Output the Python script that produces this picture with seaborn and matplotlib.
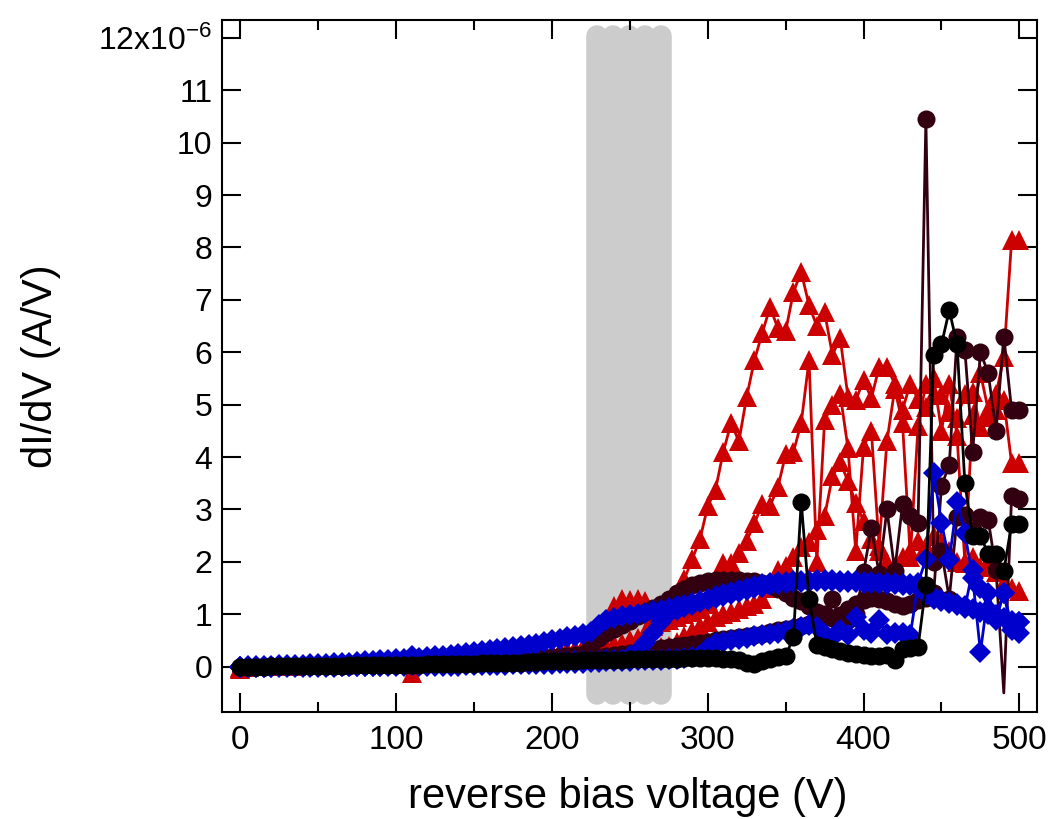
import matplotlib
matplotlib.use("Agg")
import matplotlib.pyplot as plt
import numpy as np
import pandas as pd
import seaborn as sns
from matplotlib.ticker import FixedLocator, FixedFormatter, NullLocator

# ---------------- data (values in units of 1e-6 A/V) ----------------
voltage = list(range(0, 505, 5))

red_a = [-0.05,0.00,0.01,0.01,0.02,0.02,0.03,0.03,0.04,0.04,
         0.05,0.05,0.06,0.06,0.07,0.07,0.08,0.08,0.09,0.09,
         0.10,0.11,0.11,0.12,0.12,0.13,0.13,0.14,0.14,0.15,
         0.15,0.16,0.17,0.18,0.19,0.20,0.21,0.22,0.23,0.24,
         0.25,0.27,0.29,0.31,0.33,0.35,0.37,0.40,0.43,0.46,
         0.50,0.55,0.65,0.78,0.92,1.10,1.40,1.67,2.05,2.43,
         3.06,3.38,4.10,4.65,4.30,5.15,5.85,6.37,6.86,6.46,
         6.40,7.15,7.53,6.90,6.50,6.77,5.95,6.27,5.15,5.08,
         5.47,5.12,5.72,5.72,5.40,4.90,5.40,5.10,4.96,5.20,
         5.18,4.86,4.74,5.20,5.24,4.57,4.77,4.89,5.08,3.88,
         3.88]

red_b = [0.00,0.00,0.01,0.01,0.02,0.02,0.03,0.03,0.04,0.04,
         0.05,0.05,0.06,0.06,0.07,0.07,0.08,0.08,0.09,0.09,
         0.10,0.10,-0.12,0.11,0.12,0.12,0.13,0.13,0.14,0.15,
         0.16,0.17,0.18,0.19,0.20,0.21,0.22,0.23,0.24,0.25,
         0.27,0.29,0.31,0.34,0.38,0.48,0.65,0.90,1.15,1.30,
         1.28,1.30,1.25,0.95,0.85,0.90,0.95,1.00,1.05,1.10,
         1.20,1.50,1.97,1.97,2.16,2.40,2.74,3.10,3.07,3.42,
         4.05,4.10,4.65,5.85,2.00,4.70,5.00,5.20,4.17,2.20,
         4.20,4.50,2.30,4.30,5.30,4.65,2.10,4.60,5.40,5.50,
         4.50,5.40,4.40,2.00,4.80,5.60,4.90,5.20,5.90,8.14,
         8.14]

red_c = [-0.03,0.00,0.01,0.01,0.01,0.02,0.02,0.02,0.03,0.03,
         0.04,0.04,0.05,0.05,0.05,0.06,0.06,0.07,0.07,0.08,
         0.08,0.09,0.09,0.10,0.10,0.11,0.11,0.12,0.12,0.13,
         0.13,0.14,0.14,0.15,0.16,0.16,0.17,0.18,0.18,0.19,
         0.20,0.21,0.22,0.22,0.23,0.24,0.25,0.26,0.27,0.28,
         0.29,0.30,0.32,0.34,0.37,0.40,0.48,0.58,0.68,0.78,
         0.86,0.94,1.00,1.05,1.10,1.15,1.20,1.30,1.50,1.85,
         1.92,2.10,2.28,2.37,2.60,2.87,3.63,3.90,3.54,3.13,
         2.78,2.43,2.20,2.00,1.90,2.10,2.20,2.40,2.30,2.50,
         2.40,2.20,2.00,1.98,2.10,1.90,2.00,1.80,1.60,1.50,
         1.45]

maroon_a = [0.00,0.00,0.00,0.01,0.01,0.01,0.01,0.01,0.02,0.02,
            0.02,0.02,0.03,0.03,0.03,0.04,0.04,0.04,0.05,0.05,
            0.05,0.06,0.06,0.07,0.07,0.08,0.08,0.09,0.09,0.10,
            0.10,0.11,0.12,0.12,0.13,0.14,0.15,0.16,0.17,0.18,
            0.19,0.20,0.21,0.22,0.24,0.40,0.55,0.64,0.72,0.80,
            0.88,0.96,1.04,1.12,1.20,1.30,1.40,1.48,1.55,1.60,
            1.63,1.65,1.66,1.66,1.65,1.64,1.63,1.60,1.55,1.48,
            1.40,1.32,1.25,1.15,1.05,0.95,0.92,0.98,1.10,1.20,
            1.28,1.32,1.30,1.25,1.20,1.15,1.20,1.28,1.32,1.40,
            3.45,3.85,6.30,6.05,4.10,6.00,5.60,4.50,6.30,4.90,
            4.90]

maroon_b = [0.00,0.00,0.00,0.00,0.01,0.01,0.01,0.01,0.01,0.01,
            0.02,0.02,0.02,0.02,0.02,0.03,0.03,0.03,0.03,0.04,
            0.04,0.04,0.04,0.05,0.05,0.05,0.06,0.06,0.06,0.07,
            0.07,0.08,0.08,0.09,0.09,0.10,0.10,0.11,0.11,0.12,
            0.12,0.13,0.13,0.14,0.15,0.16,0.18,0.20,0.22,0.24,
            0.26,0.28,0.30,0.32,0.35,0.38,0.40,0.42,0.44,0.46,
            0.48,0.50,0.52,0.54,0.56,0.58,0.60,0.62,0.66,0.70,
            0.72,0.74,0.78,0.82,0.90,1.00,1.30,0.85,0.90,1.00,
            1.80,2.65,1.77,3.00,1.83,3.10,2.87,2.75,10.45,2.00,
            2.20,1.30,2.85,2.90,2.60,2.85,2.80,1.85,-0.50,3.25,
            3.20]

blue_a = [0.00,0.01,0.01,0.02,0.02,0.03,0.03,0.04,0.04,0.05,
          0.05,0.06,0.07,0.07,0.08,0.09,0.10,0.11,0.12,0.13,
          0.14,0.15,0.16,0.17,0.18,0.20,0.21,0.22,0.24,0.26,
          0.28,0.30,0.32,0.34,0.36,0.38,0.40,0.42,0.44,0.47,
          0.50,0.53,0.56,0.59,0.62,0.66,0.80,0.90,0.93,0.96,
          0.98,1.00,1.03,1.06,1.09,1.12,1.15,1.18,1.22,1.26,
          1.30,1.34,1.38,1.42,1.46,1.50,1.54,1.57,1.60,1.62,
          1.62,1.63,1.64,1.64,1.65,1.65,1.65,1.64,1.64,1.63,
          1.62,1.61,1.60,1.60,1.59,1.58,1.57,1.55,1.40,1.33,
          1.28,1.24,1.20,1.15,1.10,1.05,1.00,0.96,0.92,0.88,
          0.85]

blue_b = [0.00,0.00,0.00,0.00,0.00,0.01,0.01,0.01,0.01,0.01,
          0.01,0.01,0.01,0.02,0.02,0.02,0.02,0.02,0.02,0.03,
          0.03,0.03,0.03,0.03,0.04,0.04,0.04,0.04,0.05,0.05,
          0.05,0.05,0.06,0.06,0.06,0.07,0.07,0.07,0.08,0.08,
          0.08,0.09,0.09,0.10,0.10,0.11,0.11,0.12,0.12,0.13,
          0.20,0.30,0.45,0.65,0.85,1.02,1.08,1.13,1.18,1.23,
          1.27,1.31,1.35,1.39,1.43,1.47,1.50,1.53,1.56,1.58,
          1.60,1.61,1.62,1.62,1.63,1.63,1.63,1.62,1.62,1.61,
          1.60,1.60,1.59,1.58,1.57,1.56,1.55,1.53,1.38,1.30,
          1.25,1.21,1.17,1.12,1.85,1.50,1.10,0.99,1.40,0.80,
          0.65]

blue_c = [0.00,0.00,0.00,0.00,0.00,0.00,0.00,0.00,0.00,0.00,
          0.00,0.00,0.00,0.01,0.01,0.01,0.01,0.01,0.01,0.01,
          0.01,0.01,0.20,0.01,0.02,0.02,0.02,0.02,0.02,0.03,
          0.03,0.03,0.04,0.04,0.04,0.05,0.05,0.05,0.06,0.06,
          0.06,0.07,0.07,0.08,0.08,0.09,0.09,0.10,0.10,0.11,
          0.11,0.12,0.12,0.13,0.13,0.14,0.15,0.16,0.18,0.22,
          0.35,0.45,0.47,0.50,0.52,0.55,0.58,0.60,0.62,0.65,
          0.68,0.72,0.76,0.80,0.75,0.62,0.55,0.70,0.60,0.95,
          0.70,0.65,0.90,0.62,0.65,0.65,0.60,1.60,2.05,3.70,
          2.75,2.03,3.15,2.55,1.70,0.28,1.40,0.90,1.40,0.70,
          0.85]

black_a = [0.00,0.00,0.00,0.00,0.01,0.01,0.01,0.01,0.01,0.02,
           0.02,0.02,0.02,0.02,0.03,0.03,0.03,0.03,0.03,0.04,
           0.04,0.04,0.04,0.04,0.05,0.05,0.05,0.05,0.06,0.06,
           0.06,0.07,0.07,0.07,0.08,0.08,0.08,0.09,0.09,0.10,
           0.10,0.10,0.11,0.11,0.12,0.12,0.12,0.13,0.13,0.13,
           0.14,0.14,0.14,0.15,0.15,0.15,0.15,0.16,0.16,0.16,
           0.16,0.16,0.15,0.15,0.12,0.08,0.05,0.10,0.14,0.18,
           0.20,0.57,3.15,1.30,0.42,0.38,0.33,0.30,0.27,0.24,
           0.22,0.20,0.20,0.22,0.12,0.33,0.36,0.38,1.55,5.95,
           6.15,6.80,6.15,3.50,2.50,2.50,2.15,2.15,1.83,2.72,
           2.72]

x_ticks = [0, 100, 200, 300, 400, 500]
x_minor_ticks = [50, 150, 250, 350, 450]
y_ticks = list(range(0, 13))
y_tick_labels = [str(v) for v in range(0, 12)] + [r"12x10$^{\mathregular{-6}}$"]

# shaded region (drawn as several round-capped strokes)
band_x = [228.8, 239.2, 249.5, 259.9, 270.2]
band_lo, band_hi = -0.53, 12.04

SCALE = 1e-6

# ---------------- style ----------------
sns.set_theme(style="ticks")
plt.rcParams["font.family"] = ["Liberation Sans", "DejaVu Sans"]
plt.rcParams["mathtext.fontset"] = "custom"
plt.rcParams["mathtext.rm"] = "Liberation Sans"
plt.rcParams["mathtext.it"] = "Liberation Sans:italic"
plt.rcParams["mathtext.bf"] = "Liberation Sans:bold"

RED, MAROON, BLUE, BLACK = "#cc0000", "#330011", "#0000cc", "#000000"

series = [
    ("red_c", red_c, RED, "^", 14.0),
    ("red_b", red_b, RED, "^", 14.0),
    ("red_a", red_a, RED, "^", 14.0),
    ("maroon_b", maroon_b, MAROON, "o", 13.0),
    ("maroon_a", maroon_a, MAROON, "o", 13.0),
    ("blue_c", blue_c, BLUE, "D", 11.5),
    ("blue_b", blue_b, BLUE, "D", 11.5),
    ("blue_a", blue_a, BLUE, "D", 11.5),
    ("black_a", black_a, BLACK, "o", 13.0),
]

frames = []
for name, vals, *_ in series:
    frames.append(pd.DataFrame({"series": name, "voltage": voltage,
                                "dIdV": np.array(vals, dtype=float) * SCALE}))
df = pd.concat(frames, ignore_index=True)

fig = plt.figure(figsize=(10.5, 8.19), dpi=100)
ax = fig.add_axes([222 / 1050, 1 - 711.5 / 819, (1037 - 222) / 1050, (711.5 - 20) / 819])

for bx in band_x:
    ax.plot([bx, bx], [band_lo * SCALE, band_hi * SCALE], color="#cccccc",
            lw=15.5, solid_capstyle="round", zorder=0.5)

for name, vals, color, marker, ms in series:
    sub = df[df["series"] == name]
    show = [i for i, v in enumerate(vals) if v > -0.3]
    sns.lineplot(data=sub, x="voltage", y="dIdV", ax=ax, color=color,
                 marker=marker, markersize=ms, markeredgewidth=0,
                 linewidth=2.0, estimator=None, sort=False, errorbar=None,
                 legend=False, markevery=show)

ax.set_xlim(-11.7, 511.3)
ax.set_ylim(-0.855 * SCALE, 12.34 * SCALE)

ax.xaxis.set_major_locator(FixedLocator(x_ticks))
ax.xaxis.set_minor_locator(FixedLocator(x_minor_ticks))
ax.xaxis.set_major_formatter(FixedFormatter([str(t) for t in x_ticks]))
ax.yaxis.set_major_locator(FixedLocator([t * SCALE for t in y_ticks]))
ax.yaxis.set_major_formatter(FixedFormatter(y_tick_labels))
ax.yaxis.set_minor_locator(NullLocator())

ax.tick_params(axis="both", which="both", direction="in", top=True, right=True,
               width=1.5, color="black", labelcolor="black")
ax.tick_params(which="major", length=13.9)
ax.tick_params(which="minor", length=7.2)
ax.tick_params(axis="x", labelsize=24, pad=10)
ax.tick_params(axis="y", labelsize=23, pad=7)

for s in ax.spines.values():
    s.set_linewidth(1.5)
    s.set_color("black")
    s.set_visible(True)

ax.set_xlabel("reverse bias voltage (V)", fontsize=30, color="black")
ax.set_ylabel("dI/dV (A/V)", fontsize=30, color="black")
ax.xaxis.set_label_coords(0.498, -0.094)
ax.yaxis.set_label_coords(-0.198, 0.5)

fig.savefig("out.png", dpi=100)
